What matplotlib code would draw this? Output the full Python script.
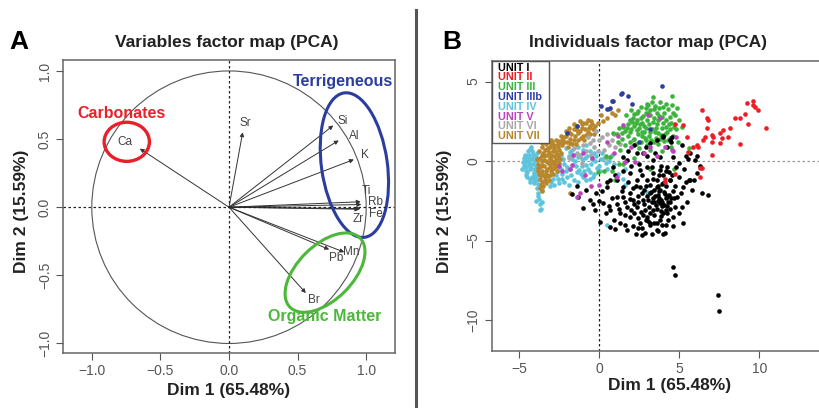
import matplotlib
matplotlib.use('Agg')
import matplotlib.pyplot as plt
from matplotlib.patches import Ellipse, Circle, Rectangle, FancyArrowPatch

plt.rcParams['font.family'] = ['Liberation Sans', 'DejaVu Sans']

# ---------------- Panel A data ----------------
variables = ['Sr', 'Ca', 'Si', 'Al', 'K', 'Ti', 'Rb', 'Fe', 'Zr', 'Mn', 'Pb', 'Br']
var_dim1 = [0.10, -0.65, 0.76, 0.80, 0.91, 0.96, 0.965, 0.96, 0.95, 0.84, 0.73, 0.56]
var_dim2 = [0.55, 0.43, 0.60, 0.49, 0.35, 0.04, 0.02, -0.01, -0.015, -0.33, -0.31, -0.63]
label_pos = {'Sr': (0.12, 0.62), 'Ca': (-0.76, 0.48), 'Si': (0.83, 0.63), 'Al': (0.91, 0.52),
             'K': (0.99, 0.38), 'Ti': (1.0, 0.12), 'Rb': (1.065, 0.035), 'Fe': (1.07, -0.05),
             'Zr': (0.94, -0.09), 'Mn': (0.89, -0.33), 'Pb': (0.78, -0.37), 'Br': (0.62, -0.68)}
groups = ['Carbonates', 'Terrigeneous', 'Organic Matter']
group_colors = ['#e8202a', '#2b3d9e', '#4cb83a']

# ---------------- Panel B data ----------------
units = ['UNIT I', 'UNIT II', 'UNIT III', 'UNIT IIIb', 'UNIT IV', 'UNIT V', 'UNIT VI', 'UNIT VII']
unit_colors = ['#000000', '#ee1c24', '#3cb43c', '#2c3e9e', '#5ec4dc', '#bb44bb', '#a8a8a8', '#b8862b']

u1_x = [-1.73, -1.31, -0.58, -1.0, -0.27, 0.04, 0.67, 0.98, 1.71, 2.65, 2.85, 3.58, 4.10, 5.25, 4.73, 4.83,
        5.25, 5.77, 6.81, 5.67, 6.08, 5.98, 5.56, 5.0, 4.63, 4.21, 4.0, 4.42, 3.17, 2.33, 1.5, 0.88, 0.67,
        0.46, 1.08, 1.5, 1.92, 2.54, 2.96, 3.38, 3.79, 2.75, 1.71, 1.08, 0.25, 0.67, 1.29, 1.92, 2.33, 2.75,
        3.17, 3.58, 4.0, 4.42, 4.21, 3.79, 3.38, 2.96, 2.54, 3.17, 3.79, 4.21, 4.63, 2.54, 2.96, 3.38, 3.79,
        4.21, 2.13, 1.71, 1.5, 1.92, 2.33,
        3.5, 3.7, 3.9, 4.1, 4.3, 3.6, 3.8, 4.2, 3.3, 3.1, 3.4, 3.0, 2.8, 2.6, 2.9, 3.2, 3.6, 4.0, 4.4, 4.5,
        4.6, 4.4, 4.0, 3.6, 3.2, 2.8, 2.4, 2.2, 2.0, 2.4, 2.7, 3.9, 4.3, 3.75, 3.95, 4.15, 3.55, 3.85, 4.05,
        3.45, 3.65, 4.25, 3.35, 3.15, 2.85, 4.35, 3.85, 3.5, 3.0, 2.5, 2.0, 1.5, 1.0, 0.5, 0.2, -0.2, -0.8,
        -1.4, 0.0, 0.4, 0.9, 1.3, 1.6, 2.1, 1.1, 0.8, 1.4, 1.8, 2.1, 5.1, 5.4, 5.0, 4.8, 5.3, 6.3, 5.9, 5.5,
        5.0, 4.6, 4.0, 3.3, 2.3, 4.0, 4.5, 3.6, 2.9, 2.2, 1.8, 5.4, 6.1, 5.7, 5.2, 4.52,
        3.65, 3.45, 3.85, 4.05, 4.35, 3.75, 3.95, 3.25, 3.05, 2.95, 2.65, 2.45, 2.75, 3.05, 3.45, 3.85, 4.15,
        4.45, 4.65, 4.75, 4.55, 4.15, 3.75, 3.35, 2.3, 1.9, 1.6, 1.25, 1.6, 2.15, 2.4, 3.7, 4.2, 0.6, -0.4,
        5.6, 5.2, 6.4, 3.3, 2.7,
        4.59, 4.73, 7.4, 7.48]
u1_y = [-2.10, -2.24, -2.45, -2.98, -3.08, -3.82, -4.13, -4.30, -4.34, -4.65, -4.55, -4.34, -4.55, -3.88,
        -2.87, -2.24, -1.61, -1.82, -2.14, -1.19, -0.78, 0.06, 0.10, -0.15, 0.27, 0.90, 1.53, 1.32, 1.11,
        0.48, 0.27, -0.36, -1.19, -1.61, -1.19, -1.61, -0.78, -0.57, -0.36, 0.06, 0.27, 0.48, 0.06, -2.24,
        -2.66, -3.08, -3.29, -3.50, -2.87, -2.45, -2.03, -1.61, -1.40, -1.19, -2.24, -2.66, -3.08, -3.50,
        -3.92, -3.92, -3.71, -3.29, -3.50, -1.61, -1.19, -0.78, -0.57, -0.36, -2.45, -2.87, -2.24, -2.03,
        -1.19,
        -2.2, -2.5, -2.8, -2.1, -2.6, -3.0, -1.8, -1.6, -2.6, -2.9, -3.4, -2.2, -2.7, -3.2, -3.7, -4.0, -3.9,
        -3.3, -3.0, -2.3, -1.9, -1.2, -0.9, -1.2, -1.5, -1.8, -2.2, -2.7, -3.1, -3.6, -4.2, -4.0, -3.7, -2.3,
        -2.55, -2.35, -2.75, -3.15, -1.95, -1.85, -1.55, -2.85, -2.35, -3.25, -3.05, -0.7, -0.3, 0.5, 0.3,
        -0.2, -0.3, -0.6, -0.9, -1.3, -1.9, -2.0, -1.8, -1.6, -2.5, -3.3, -3.7, -3.9, -4.0, -4.1, -2.7, -2.3,
        -1.9, -1.3, -1.7, -2.0, -1.3, -1.0, -0.4, -0.5, -0.3, -1.2, -2.6, -3.3, -4.1, -4.6, -4.6, -4.6, 1.6,
        1.2, 1.3, 0.9, 1.0, 0.6, 0.3, 0.3, 0.5, 1.0, 1.53,
        -2.15, -2.55, -2.45, -2.75, -2.15, -1.9, -1.45, -1.95, -2.45, -1.6, -2.0, -2.55, -3.4, -3.75, -3.9,
        -3.45, -3.1, -2.6, -2.3, -1.6, -0.9, -0.6, -0.9, -1.1, -1.6, -2.4, -2.6, -3.0, -3.4, -3.3, -4.2,
        -4.4, -4.0, -2.8, -2.7, -1.2, -2.9, -2.0, -0.4, -0.9,
        -6.65, -7.17, -8.43, -9.43]

u2_x = [6.4, 6.71, 6.81, 6.71, 6.61, 7.03, 7.13, 7.54, 7.65, 7.75, 8.17, 8.06, 7.54, 7.03, 6.50, 6.19,
        5.88, 5.56, 7.03, 8.48, 8.79, 9.11, 9.32, 9.21, 9.63, 9.73, 9.94, 9.63, 10.42, 8.79, 5.25, 6.12,
        5.46, 6.29, 6.29, 4.11, 4.73, 6.4, 4.73, 4.1]
u2_y = [3.2, 2.68, 2.58, 2.05, 1.53, 1.64, 1.53, 1.74, 1.43, 1.95, 2.05, 1.53, 1.11, 1.21, 1.32, 0.90,
        0.90, 0.58, 0.38, 2.68, 2.72, 2.94, 2.31, 3.63, 3.77, 3.42, 3.21, 3.52, 2.09, 1.05, 2.26, 1.0,
        1.53, -0.46, -0.99, -1.30, 2.33, -0.46, -0.84, -1.13]

u3_x = [4.52, 3.38, 3.06, 3.5, 4.0, 4.84, 4.73, 5.15, 2.34, 1.92, 1.5, 0.88, 1.2, 0.67, 1.25,
        2.0, 2.3, 2.6, 2.9, 3.2, 3.6, 3.9, 4.2, 4.5, 4.4, 4.1, 3.8, 3.4, 3.0, 2.6, 2.2, 1.8, 1.6, 2.1, 2.5,
        2.8, 3.1, 3.3, 3.6, 3.9, 4.3, 4.6, 4.8, 2.7, 3.0, 3.4, 3.7, 2.4, 1.9, 1.4, 1.1, 2.0, 2.6, 3.3, 3.8,
        4.3, 4.6, 1.7, 3.1, 3.5, 4.0, 2.3, 2.9, 3.7, 4.5, 1.6, 1.3, 2.5, 3.9, 4.9, 5.0, 4.2, 3.0, 2.8, 2.2,
        1.8, 3.2, 4.4, 3.55, 2.35, 3.85, 2.65, 3.25, 4.15, 1.95,
        2.15, 2.45, 2.75, 3.05, 3.45, 3.75, 4.05, 4.35, 4.65, 4.25, 3.95, 3.65, 3.35, 2.95, 2.65, 2.35,
        2.05, 1.75, 1.45, 1.25, 2.85, 3.15, 3.55, 4.05, 4.45, 2.55, 3.75, 2.95, 4.55, 3.15,
        0.3, 1.0, 3.2, 2.2, 5.6, 0.8, -0.1, 1.5, 4.7, 0.4]
u3_y = [4.09, 4.0, 3.52, 3.45, 3.42, 3.31, 2.9, 2.16, 3.0, 2.58, 2.16, 1.74, 1.2, 0.27, -0.2,
        2.0, 2.4, 2.7, 3.0, 3.2, 3.0, 2.8, 2.6, 2.4, 2.0, 1.7, 1.4, 1.2, 1.0, 1.2, 1.4, 1.6, 1.9, 2.7, 2.1,
        1.8, 1.6, 2.0, 2.3, 2.1, 1.3, 1.6, 2.0, 2.4, 2.6, 2.7, 2.6, 1.7, 1.2, 1.4, 1.7, 3.2, 3.4, 3.7, 3.7,
        3.3, 3.0, 2.9, 2.3, 1.8, 2.4, 1.1, 1.3, 1.1, 0.9, 1.0, 0.7, 0.8, 0.6, 1.2, 2.6, 3.6, 3.6, 2.2, 2.2,
        2.3, 2.9, 2.8, 2.05, 2.55, 1.65, 1.55, 1.35, 2.15, 1.85,
        2.95, 3.15, 2.85, 3.05, 3.25, 2.85, 3.05, 2.35, 2.15, 1.85, 1.55, 1.75, 2.45, 2.05, 1.85, 1.95,
        2.45, 2.05, 1.75, 2.05, 1.45, 1.85, 1.45, 1.25, 1.45, 2.35, 3.35, 3.35, 3.55, 0.7,
        -0.6, -1.2, -0.5, 0.2, 0.8, -0.6, -0.7, -0.2, -0.5, 0.3]

u3b_x = [3.9, 1.34, 1.81, 0.88, 2.02, 0.08, 0.67, -1.41, -2.04, 0.5, 1.40, 0.77, 3.2, 2.5]
u3b_y = [4.72, 4.21, 4.11, 3.77, 3.58, 3.46, 3.31, 2.2, 1.78, 3.27, 4.26, 3.77, 2.0, 1.2]

u4_x = [-4.7, -4.6, -4.5, -4.4, -4.3, -4.2, -4.1, -4.0, -3.9, -4.6, -4.5, -4.3, -4.4, -4.2, -4.0, -3.9,
        -4.1, -4.3, -4.5, -4.75, -3.95, -4.15, -4.35, -4.05, -3.85, -4.25, -4.55, -4.65,
        -3.9, -3.8, -3.75, -3.7, -3.65, -3.7, -3.85, -3.6, -3.95, -3.6,
        -3.0, -2.6, -2.3, -2.2, -2.0, -1.9, -1.8, -1.6, -1.5, -1.4, -1.2, -1.1, -1.0, -0.9, -0.7, -0.6, -0.5,
        -0.3, -0.2, 0.0, 0.2, 0.4, -2.4, -2.1, -1.7, -1.3, -0.8, -2.8, -2.5, -2.2, -1.9, -1.3, -0.8, -0.4,
        -2.7, -2.4, -1.65, -1.25, -0.95, -0.45, 0.1, 0.6, 0.8, 1.2, 1.6, 0.5, -0.15, -2.05, -1.55, -1.05,
        -4.8, -4.7, -4.55, -4.45, -4.35, -4.25, -4.15, -4.05, -3.95, -4.65, -4.4, -4.2, -4.0, -3.9, -4.5,
        -3.8, -4.1, -4.3, -2.9, -2.3, -1.75, -1.45, -1.15, -0.85, -0.55, -0.25, 0.05, 0.3, -2.6, -2.0,
        -1.7, -1.35, -0.75, -0.35, -2.25, -1.85, -3.1, 0.9, -1.0, -0.6,
        1.6, 0.46, 2.96, 1.5]
u4_y = [-0.3, 0.1, -0.7, 0.4, -0.2, -1.0, 0.3, -0.5, -1.2, -0.6, -1.0, -1.3, 0.0, 0.6, 0.0, 0.5,
        -0.8, -0.5, 0.3, -0.05, -0.3, -0.2, 0.2, -1.4, -0.9, 0.9, -0.35, 0.35,
        -1.7, -2.0, -2.4, -2.7, -3.0, -3.1, -2.2, -1.8, -2.5, -2.6,
        -1.3, -1.1, -0.8, -0.2, -1.0, 0.3, -0.5, -1.2, 0.0, -0.7, 0.4, -0.3, -1.0, 0.2, -0.5, 0.6, -0.2,
        -0.8, 0.3, -0.3, 0.5, -0.1, 0.4, 0.8, 0.7, 0.9, 1.0, -1.5, -1.4, -1.3, -1.5, -1.3, -1.2, -1.0,
        -0.9, -0.5, -0.25, -0.55, -0.65, 0.15, 0.1, 0.0, 0.4, -0.8, -0.5, -0.5, -0.45, -0.65, 0.35, 0.15,
        -0.5, 0.2, -0.85, 0.65, -1.1, -0.45, 0.45, -0.7, 0.25, -0.15, -0.25, 0.15, -1.0, -0.55, 0.0,
        -1.45, -1.2, 0.75, -1.1, -1.1, -0.85, -0.3, -0.8, -0.25, -0.7, 0.0, -0.6, 0.2, -0.6, -0.35,
        0.1, 0.25, 0.3, 0.5, 0.15, 0.55, -1.55, -0.2, 0.7, -1.1,
        -1.5, -4.03, -1.97, -1.1]

u5_x = [-1.73, -1.8, -0.48, 1.08, -1.2, -1.41, -1.63, 0.46, 1.5, 2.23, 3.06, 3.79, 4.1, 4.52, 4.63, 1.6,
        3.2, 2.8, 4.8, -0.9, -2.3, 0.0, -0.5, 2.0, -1.0, 0.9, 1.2, 3.6, -2.5]
u5_y = [-0.25, -0.5, 0.17, -0.99, -2.03, -2.24, 0.38, 1.21, 2.26, -0.04, 2.89, 2.68, 0.9, 0.69, 0.6, -0.04,
        0.9, 0.5, 1.5, -0.9, -0.6, -1.5, -1.6, 0.9, 0.5, 0.5, 1.6, 0.3, -0.3]

u6_x = [-0.58, -1.4, 0.6, -0.8, -0.3, 0.0, 0.3, -1.0, -1.2, -0.5, 0.2, 0.8, 1.0, -1.6, -1.9, -0.1, 0.5,
        -0.7, 1.3, -0.2, 0.9, -1.1, 0.4, -0.4, 2.1]
u6_y = [1.11, 0.5, 1.0, 0.6, 0.9, 1.3, 0.7, 1.0, 0.3, 0.4, 1.5, 1.3, 0.9, 0.8, 0.2, 0.6, 1.7, 1.5, 1.1,
        1.9, 1.7, -0.1, 0.2, 1.3, 1.3]

u7_x = [-3.8, -3.7, -3.6, -3.5, -3.4, -3.3, -3.2, -3.1, -3.0, -2.9, -2.8, -2.7, -2.6, -2.5, -2.4, -3.6,
        -3.5, -3.75, -3.55, -3.35, -3.0, -2.95, -2.75, -2.65, -2.85, -3.05, -3.25, -3.45, -3.65, -3.25, -3.45,
        -3.05, -2.95, -2.55, -3.15, -3.35, -3.7, -3.9, -3.6, -3.4, -3.1, -2.9, -2.7, -2.5, -3.3, -2.8, -3.0,
        -3.2, -3.5, -2.6, -2.4, -3.7, -3.8, -3.0, -2.7,
        -2.3, -2.2, -2.0, -1.9, -1.8, -1.6, -1.5, -1.4, -1.3, -1.2, -1.1, -1.0, -0.9, -0.8, -0.7, -0.6, -0.5,
        -0.4, -2.1, -1.7, -2.4, -1.95, -1.45, -0.95, -0.3, -1.6, -1.2, -0.7,
        -3.85, -3.75, -3.55, -3.45, -3.35, -3.25, -3.15, -3.05, -2.95, -2.85, -2.75, -2.65, -2.55, -2.45,
        -3.6, -3.4, -3.2, -3.0, -2.8, -3.65, -3.55, -3.3, -2.2, -2.05, -1.85, -1.75, -1.55, -1.35, -1.15,
        -1.05, -0.85, -0.65, -0.45, -0.55, -2.3, -1.9, -1.4, -1.0, -0.25, -2.6,
        0.46, 1.19, 0.8, 0.25, 0.1, 0.6, 1.0, -0.1,
        -3.6, -3.7, -1.8]
u7_y = [-0.2, 0.2, -0.6, 0.5, -1.0, 0.0, 0.8, -0.4, 0.4, -0.8, 1.0, 0.1, -0.3, 0.7, 1.2, -1.3,
        -1.6, 0.6, 0.9, 1.1, 1.3, 1.2, 0.6, -0.6, -0.2, -0.9, -0.5, -0.3, -0.9, 0.4, 0.3,
        0.9, 0.0, 0.3, -1.2, -1.4, -0.4, 0.1, 0.0, 0.7, 0.2, 0.6, -0.3, -0.1, -0.8, 0.3, -0.2,
        -0.1, -0.9, 0.9, 0.5, -1.1, -0.6, 1.1, 1.3,
        1.0, 1.5, 1.2, 1.8, 1.4, 2.0, 1.6, 2.2, 1.3, 1.9, 2.3, 1.6, 2.0, 2.4, 1.8, 2.2, 2.5,
        2.0, 1.9, 1.1, 1.6, 0.9, 1.1, 1.3, 1.7, 2.3, 2.5, 2.6,
        -0.45, -0.8, -0.25, 0.05, -0.6, 0.75, 0.55, 0.15, -0.5, 0.85, -0.05, 0.45, 1.05, 0.15,
        0.35, -1.2, -0.95, -0.65, -0.45, -1.5, 1.15, 1.25, 1.2, 1.6, 1.15, 1.7, 1.35, 1.75, 1.45,
        2.05, 1.65, 2.05, 2.3, 1.7, 1.35, 2.1, 1.95, 2.4, 2.2, 1.25,
        2.68, 3.21, 3.0, 2.5, 2.9, 3.3, 2.9, 2.4,
        -1.9, -1.7, -2.0]

unit_x = [u1_x, u2_x, u3_x, u3b_x, u4_x, u5_x, u6_x, u7_x]
unit_y = [u1_y, u2_y, u3_y, u3b_y, u4_y, u5_y, u6_y, u7_y]

# ---------------- Figure ----------------
fig = plt.figure(figsize=(8.19, 4.08), dpi=100)
TICK_COL = '#555555'

def style_axes(ax):
    for s in ax.spines.values():
        s.set_color('#666666')
        s.set_linewidth(1.1)
    ax.tick_params(direction='out', length=5, width=0.8, colors=TICK_COL, labelsize=10, pad=3)
    for lab in ax.get_yticklabels():
        lab.set_rotation(90)
        lab.set_va('center')

# Panel A
axA = fig.add_axes([0.0769, 0.1348, 0.4054, 0.718])
axA.set_xlim(-1.21, 1.21)
axA.set_ylim(-1.07, 1.08)
axA.set_xticks([-1.0, -0.5, 0.0, 0.5, 1.0])
axA.set_yticks([-1.0, -0.5, 0.0, 0.5, 1.0])
axA.set_xticklabels(['−1.0', '−0.5', '0.0', '0.5', '1.0'])
axA.set_yticklabels(['−1.0', '−0.5', '0.0', '0.5', '1.0'])
style_axes(axA)
axA.axhline(0, color='#222222', lw=0.9, ls=(0, (2, 2)))
axA.axvline(0, color='#222222', lw=0.9, ls=(0, (2, 2)))
axA.add_patch(Circle((0, 0), 1.0, fill=False, ec='#555555', lw=0.8))
for name, x, y in zip(variables, var_dim1, var_dim2):
    axA.add_patch(FancyArrowPatch((0, 0), (x, y), arrowstyle='-|>', mutation_scale=6,
                                  color='#333333', lw=0.7, shrinkA=0, shrinkB=0))
    lx, ly = label_pos[name]
    axA.text(lx, ly, name, fontsize=8.5, color='#444444', ha='center', va='center')

axA.add_patch(Ellipse((-0.745, 0.48), 0.33, 0.287, fill=False, ec=group_colors[0], lw=2.4))
axA.add_patch(Ellipse((0.914, 0.309), 0.48, 1.07, angle=8, fill=False, ec=group_colors[1], lw=2.2))
axA.add_patch(Ellipse((0.70, -0.48), 0.72, 0.40, angle=45, fill=False, ec=group_colors[2], lw=2.2))
axA.text(-0.78, 0.69, groups[0], color=group_colors[0], fontsize=11.5, fontweight='bold', ha='center', va='center')
axA.text(0.83, 0.92, groups[1], color=group_colors[1], fontsize=11.5, fontweight='bold', ha='center', va='center')
axA.text(0.70, -0.80, groups[2], color=group_colors[2], fontsize=11.5, fontweight='bold', ha='center', va='center')

# Panel B
axB = fig.add_axes([0.6004, 0.1397, 0.3996, 0.7115])
axB.set_xlim(-6.72, 13.73)
axB.set_ylim(-11.95, 6.31)
axB.set_xticks([-5, 0, 5, 10])
axB.set_yticks([-10, -5, 0, 5])
axB.set_xticklabels(['−5', '0', '5', '10'])
axB.set_yticklabels(['−10', '−5', '0', '5'])
style_axes(axB)
axB.spines['right'].set_visible(False)
axB.axhline(0, color='#999999', lw=0.9, ls=(0, (2, 2)))
axB.axvline(0, color='#222222', lw=0.9, ls=(0, (2, 2)))

order = [4, 7, 6, 2, 0, 5, 1, 3]
for i in order:
    axB.scatter(unit_x[i], unit_y[i], s=11, c=unit_colors[i], marker='o', linewidths=0, zorder=3)

axB.add_patch(Rectangle((0, 0.717), 0.1757, 0.283, transform=axB.transAxes,
                        fc='white', ec='#555555', lw=1.0, zorder=5))
for k, (u, col) in enumerate(zip(units, unit_colors)):
    axB.text(0.019, 0.976 - k * 0.0337, u, transform=axB.transAxes, color=col, fontsize=7.8,
             fontweight='bold', ha='left', va='center', zorder=6)

# Titles and labels
fig.text(0.012, 0.897, 'A', fontsize=19, fontweight='bold', ha='left', va='center')
fig.text(0.277, 0.897, 'Variables factor map (PCA)', fontsize=12.5, fontweight='bold', ha='center', va='center', color='#222222')
fig.text(0.540, 0.897, 'B', fontsize=19, fontweight='bold', ha='left', va='center')
fig.text(0.791, 0.897, 'Individuals factor map (PCA)', fontsize=12.5, fontweight='bold', ha='center', va='center', color='#222222')
fig.text(0.279, 0.044, 'Dim 1 (65.48%)', fontsize=12.5, fontweight='bold', ha='center', va='center', color='#222222')
fig.text(0.818, 0.056, 'Dim 1 (65.48%)', fontsize=12.5, fontweight='bold', ha='center', va='center', color='#222222')
fig.text(0.026, 0.481, 'Dim 2 (15.59%)', fontsize=12.5, fontweight='bold', ha='center', va='center', rotation=90, color='#222222')
fig.text(0.543, 0.483, 'Dim 2 (15.59%)', fontsize=12.5, fontweight='bold', ha='center', va='center', rotation=90, color='#222222')

# divider
fig.add_artist(plt.Line2D([0.508, 0.508], [0.0, 0.975], transform=fig.transFigure, color='#555555', lw=2.2))

fig.savefig('out.png', dpi=100)
